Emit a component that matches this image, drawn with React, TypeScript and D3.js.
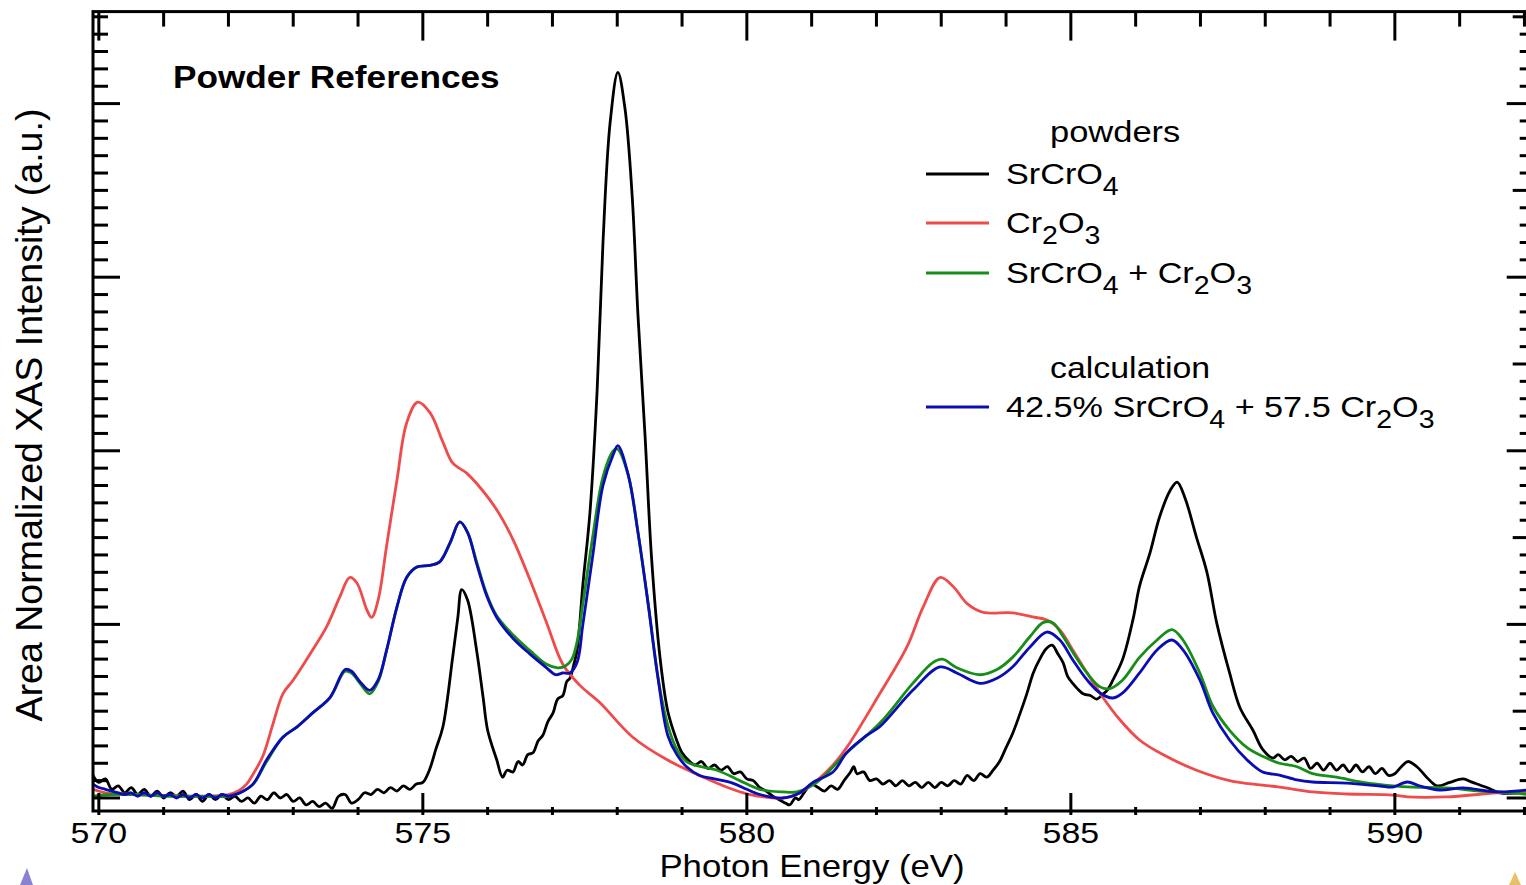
import React from "react";
import * as d3 from "d3";

// ---- spectra (photon energy in eV, area-normalized intensity) ----
const SRCRO4: [number, number][] = [
  [569.91, 0.13], [570.0, 0.09], [570.1, 0.11], [570.2, 0.05], [570.3, 0.07], [570.4, 0.03], [570.5, 0.06],
  [570.6, 0.02], [570.7, 0.05], [570.8, 0.01], [570.9, 0.04], [571.0, 0.0], [571.1, 0.03], [571.2, 0.01],
  [571.3, 0.04], [571.4, -0.01], [571.5, 0.02], [571.6, -0.02], [571.7, 0.02], [571.8, -0.01], [571.9, 0.02],
  [572.0, -0.01], [572.1, 0.01], [572.2, -0.02], [572.3, 0.0], [572.4, -0.03], [572.5, 0.01], [572.6, -0.01],
  [572.7, 0.03], [572.8, 0.0], [572.9, 0.02], [573.0, -0.02], [573.1, 0.0], [573.2, -0.04], [573.3, -0.02],
  [573.4, -0.05], [573.5, -0.03], [573.6, -0.06], [573.7, 0.01], [573.8, 0.02], [573.9, -0.03], [574.0, -0.01],
  [574.1, 0.03], [574.2, 0.02], [574.3, 0.05], [574.4, 0.03], [574.5, 0.06], [574.6, 0.04], [574.7, 0.07],
  [574.8, 0.05], [574.9, 0.08], [575.0, 0.09], [575.1, 0.16], [575.2, 0.28], [575.31, 0.41], [575.46, 0.81],
  [575.54, 1.04], [575.6, 1.2], [575.69, 1.14], [575.83, 0.85], [575.93, 0.58], [576.0, 0.39], [576.14, 0.22],
  [576.23, 0.12], [576.3, 0.16], [576.39, 0.15], [576.47, 0.21], [576.54, 0.19], [576.62, 0.25], [576.7, 0.26],
  [576.78, 0.33], [576.85, 0.36], [576.93, 0.44], [577.01, 0.49], [577.08, 0.57], [577.16, 0.59], [577.22, 0.67],
  [577.27, 0.69], [577.33, 0.77], [577.38, 0.85], [577.47, 1.23], [577.58, 1.65], [577.69, 2.35], [577.78, 3.2],
  [577.89, 3.89], [578.01, 4.18], [578.12, 3.97], [578.23, 3.47], [578.32, 2.78], [578.43, 2.08], [578.53, 1.38],
  [578.66, 0.81], [578.78, 0.5], [578.92, 0.33], [579.0, 0.26], [579.12, 0.21], [579.2, 0.19], [579.3, 0.21],
  [579.4, 0.17], [579.5, 0.19], [579.6, 0.16], [579.7, 0.18], [579.8, 0.14], [579.9, 0.15], [580.0, 0.11],
  [580.1, 0.1], [580.2, 0.06], [580.3, 0.04], [580.4, 0.01], [580.5, -0.01], [580.6, -0.03], [580.66, -0.04],
  [580.75, 0.0], [580.8, -0.01], [580.9, 0.04], [581.0, 0.08], [581.1, 0.06], [581.2, 0.04], [581.3, 0.07],
  [581.4, 0.05], [581.5, 0.1], [581.6, 0.15], [581.65, 0.18], [581.7, 0.14], [581.8, 0.15], [581.9, 0.1],
  [582.0, 0.11], [582.1, 0.08], [582.2, 0.1], [582.3, 0.07], [582.4, 0.1], [582.5, 0.07], [582.6, 0.09],
  [582.7, 0.06], [582.8, 0.09], [582.9, 0.06], [583.0, 0.09], [583.1, 0.07], [583.2, 0.1], [583.3, 0.08],
  [583.4, 0.13], [583.5, 0.1], [583.6, 0.14], [583.7, 0.12], [583.8, 0.16], [583.9, 0.21], [584.0, 0.29],
  [584.1, 0.37], [584.2, 0.47], [584.32, 0.6], [584.42, 0.72], [584.52, 0.8], [584.62, 0.86], [584.71, 0.88],
  [584.8, 0.83], [584.88, 0.78], [584.95, 0.7], [585.03, 0.66], [585.1, 0.63], [585.19, 0.6], [585.3, 0.59],
  [585.4, 0.57], [585.5, 0.6], [585.56, 0.62], [585.65, 0.68], [585.8, 0.8], [585.96, 1.03], [586.06, 1.22],
  [586.22, 1.41], [586.37, 1.62], [586.53, 1.77], [586.64, 1.82], [586.76, 1.73], [586.94, 1.5], [587.1, 1.3],
  [587.25, 1.01], [587.45, 0.72], [587.61, 0.52], [587.81, 0.39], [587.96, 0.28], [588.12, 0.23], [588.2, 0.25],
  [588.3, 0.22], [588.4, 0.24], [588.5, 0.21], [588.6, 0.23], [588.7, 0.17], [588.8, 0.2], [588.9, 0.16],
  [589.0, 0.2], [589.1, 0.16], [589.2, 0.19], [589.3, 0.15], [589.4, 0.19], [589.5, 0.15], [589.6, 0.18],
  [589.7, 0.14], [589.8, 0.17], [589.9, 0.13], [590.0, 0.14], [590.1, 0.18], [590.2, 0.21], [590.34, 0.18],
  [590.49, 0.12], [590.65, 0.07], [590.85, 0.09], [591.05, 0.11], [591.2, 0.09], [591.42, 0.06], [591.62, 0.03],
  [592.05, 0.035],
];

const CR2O3: [number, number][] = [
  [569.91, 0.05], [570.1, 0.03], [570.5, 0.02], [571.0, 0.015], [571.5, 0.01], [572.0, 0.02], [572.15, 0.04],
  [572.28, 0.08], [572.4, 0.15], [572.53, 0.24], [572.69, 0.43], [572.84, 0.6], [573.0, 0.68], [573.26, 0.83],
  [573.52, 0.99], [573.72, 1.16], [573.87, 1.27], [573.98, 1.24], [574.14, 1.08], [574.21, 1.04], [574.31, 1.14],
  [574.44, 1.45], [574.6, 1.83], [574.75, 2.16], [574.92, 2.28], [575.11, 2.22], [575.31, 2.05], [575.46, 1.93],
  [575.68, 1.87], [575.88, 1.79], [576.14, 1.66], [576.39, 1.49], [576.65, 1.26], [576.91, 1.01], [577.16, 0.77],
  [577.42, 0.65], [577.73, 0.55], [578.24, 0.35], [578.77, 0.22], [579.27, 0.13], [579.78, 0.05], [580.05, 0.02],
  [580.56, 0.0], [580.82, 0.03], [581.08, 0.1], [581.33, 0.19], [581.54, 0.29], [582.05, 0.6], [582.47, 0.87],
  [582.72, 1.1], [582.98, 1.27], [583.18, 1.22], [583.4, 1.12], [583.64, 1.07], [584.1, 1.066], [584.41, 1.043],
  [584.63, 1.025], [584.83, 0.968], [585.03, 0.853], [585.25, 0.72], [585.49, 0.582], [585.76, 0.449],
  [586.06, 0.334], [586.42, 0.25], [586.94, 0.16], [587.45, 0.1], [587.92, 0.075], [588.22, 0.063],
  [588.73, 0.035], [589.26, 0.023], [589.97, 0.017], [590.19, 0.006], [590.8, 0.006], [591.57, 0.029],
  [592.05, 0.035],
];

const MIXTURE: [number, number][] = [
  [569.91, 0.01], [570.2, 0.02], [570.6, 0.02], [571.0, 0.01], [571.5, 0.01], [572.0, 0.01], [572.18, 0.03],
  [572.38, 0.08], [572.59, 0.21], [572.84, 0.35], [573.06, 0.41], [573.3, 0.49], [573.57, 0.58], [573.8, 0.73],
  [573.9, 0.72], [574.03, 0.66], [574.18, 0.6], [574.31, 0.67], [574.44, 0.85], [574.6, 1.1], [574.75, 1.27],
  [574.91, 1.33], [575.11, 1.34], [575.26, 1.36], [575.42, 1.47], [575.57, 1.59], [575.69, 1.53], [575.83, 1.36],
  [575.99, 1.17], [576.14, 1.05], [576.39, 0.94], [576.65, 0.85], [576.91, 0.77], [577.08, 0.75], [577.2, 0.76],
  [577.3, 0.8], [577.38, 0.9], [577.47, 1.12], [577.62, 1.5], [577.78, 1.85], [577.94, 2.0], [578.0, 2.01],
  [578.17, 1.86], [578.32, 1.53], [578.48, 1.11], [578.63, 0.69], [578.78, 0.42], [578.92, 0.28], [579.07, 0.21],
  [579.3, 0.18], [579.54, 0.16], [579.89, 0.1], [580.2, 0.05], [580.56, 0.035], [580.77, 0.035], [581.08, 0.09],
  [581.54, 0.26], [582.05, 0.43], [582.56, 0.66], [582.87, 0.78], [583.02, 0.8], [583.24, 0.75], [583.6, 0.71],
  [583.86, 0.74], [584.1, 0.81], [584.37, 0.93], [584.57, 1.01], [584.72, 1.01], [584.88, 0.93], [585.03, 0.84],
  [585.25, 0.72], [585.45, 0.64], [585.6, 0.63], [585.8, 0.68], [586.06, 0.81], [586.33, 0.91], [586.56, 0.97],
  [586.73, 0.91], [586.99, 0.72], [587.19, 0.53], [587.45, 0.39], [587.72, 0.29], [587.96, 0.24], [588.22, 0.2],
  [588.49, 0.18], [588.73, 0.14], [589.1, 0.12], [589.51, 0.09], [589.97, 0.07], [590.28, 0.063], [590.8, 0.058],
  [591.31, 0.04], [591.82, 0.03], [592.05, 0.02],
];

const CALCULATION: [number, number][] = [
  [569.91, 0.08], [570.0, 0.06], [570.1, 0.05], [570.3, 0.03], [570.4, 0.02], [570.5, 0.03], [570.6, 0.01],
  [570.7, 0.03], [570.8, 0.01], [570.9, 0.03], [571.0, 0.01], [571.1, 0.02], [571.2, 0.0], [571.3, 0.02],
  [571.4, 0.0], [571.5, 0.02], [571.6, 0.0], [571.7, 0.02], [571.8, 0.0], [571.9, 0.02], [572.0, 0.01],
  [572.1, 0.02], [572.18, 0.03], [572.38, 0.08], [572.59, 0.22], [572.84, 0.35], [573.06, 0.41], [573.3, 0.49],
  [573.57, 0.58], [573.8, 0.74], [573.9, 0.73], [574.03, 0.67], [574.18, 0.62], [574.31, 0.68], [574.44, 0.85],
  [574.6, 1.1], [574.75, 1.27], [574.91, 1.33], [575.11, 1.34], [575.26, 1.36], [575.42, 1.47], [575.57, 1.59],
  [575.69, 1.53], [575.83, 1.35], [575.99, 1.16], [576.14, 1.04], [576.39, 0.92], [576.65, 0.83], [576.91, 0.75],
  [577.05, 0.71], [577.16, 0.72], [577.27, 0.72], [577.38, 0.78], [577.47, 1.0], [577.62, 1.39], [577.78, 1.8],
  [577.94, 1.98], [578.01, 2.03], [578.17, 1.86], [578.32, 1.53], [578.48, 1.11], [578.63, 0.69], [578.78, 0.36],
  [578.92, 0.25], [579.07, 0.18], [579.27, 0.13], [579.5, 0.11], [579.78, 0.086], [580.0, 0.05], [580.2, 0.02],
  [580.56, 0.0], [580.82, 0.03], [581.02, 0.09], [581.33, 0.15], [581.54, 0.26], [581.85, 0.36], [582.05, 0.41],
  [582.56, 0.62], [582.98, 0.755], [583.24, 0.72], [583.6, 0.66], [583.86, 0.69], [584.1, 0.755], [584.37, 0.87],
  [584.63, 0.956], [584.83, 0.91], [585.03, 0.795], [585.25, 0.68], [585.45, 0.605], [585.65, 0.576],
  [585.8, 0.605], [586.06, 0.72], [586.33, 0.853], [586.56, 0.91], [586.73, 0.853], [586.99, 0.68],
  [587.19, 0.49], [587.45, 0.334], [587.72, 0.219], [587.96, 0.15], [588.22, 0.132], [588.49, 0.104],
  [588.73, 0.092], [589.26, 0.086], [589.77, 0.069], [589.97, 0.063], [590.19, 0.092], [590.39, 0.069],
  [590.69, 0.046], [591.05, 0.058], [591.57, 0.035], [592.05, 0.046],
];

// ---- axis ticks ----
const X_MAJOR_TICKS = [570, 575, 580, 585, 590];
const X_MINOR_TICKS = d3.range(570, 593, 1);
const Y_MAJOR_TICKS = [0, 1, 2, 3, 4];
const Y_MINOR_TICKS = d3.range(0, 46).map((i) => i / 10);

// ---- labels ----
const TITLE = "Powder References";
const X_LABEL = "Photon Energy (eV)";
const Y_LABEL = "Area Normalized XAS Intensity (a.u.)";
const GROUP_POWDERS = "powders";
const GROUP_CALC = "calculation";

type Seg = [string, boolean]; // text, subscript?
const LABEL_SRCRO4: Seg[] = [["SrCrO", false], ["4", true]];
const LABEL_CR2O3: Seg[] = [["Cr", false], ["2", true], ["O", false], ["3", true]];
const LABEL_MIX: Seg[] = [["SrCrO", false], ["4", true], [" + Cr", false], ["2", true], ["O", false], ["3", true]];
const LABEL_CALC: Seg[] = [
  ["42.5% SrCrO", false], ["4", true], [" + 57.5 Cr", false], ["2", true], ["O", false], ["3", true],
];

const COLORS = { srcro4: "#000000", cr2o3: "#ef4b4b", mix: "#178e17", calc: "#0c0cb4" };

const W = 1526;
const H = 885;
const FONT = "'Liberation Sans', Arial, Helvetica, sans-serif";

const x = d3.scaleLinear().domain([569.91, 592.05]).range([93, 1527.7]);
const y = d3.scaleLinear().domain([-0.075, 4.53]).range([811, 11.6]);

const line = d3
  .line<[number, number]>()
  .x((d) => x(d[0]))
  .y((d) => y(d[1]))
  .curve(d3.curveCatmullRom.alpha(0.5));

function Label({
  tx, ty, fs, sx = 1, anchor = "start", weight = "normal", rotate = 0, children,
}: {
  tx: number; ty: number; fs: number; sx?: number; anchor?: string; weight?: string; rotate?: number;
  children: React.ReactNode;
}) {
  return (
    <text
      transform={`translate(${tx},${ty}) rotate(${rotate}) scale(${sx},1)`}
      fontSize={fs}
      fontFamily={FONT}
      fontWeight={weight}
      textAnchor={anchor}
      fill="#000"
    >
      {children}
    </text>
  );
}

function Formula({ segs, fs, subFs, shift }: { segs: Seg[]; fs: number; subFs: number; shift: number }) {
  let offset = 0;
  return (
    <>
      {segs.map(([t, sub], i) => {
        const dy = sub ? shift - offset : -offset;
        offset = sub ? shift : 0;
        return (
          <tspan key={i} dy={dy} fontSize={sub ? subFs : fs} style={{ whiteSpace: "pre" }}>
            {t}
          </tspan>
        );
      })}
    </>
  );
}

export default function App() {
  const left = x.range()[0];
  const right = x.range()[1];
  const top = y.range()[1];
  const bottom = y.range()[0];

  const series = [
    { data: SRCRO4, color: COLORS.srcro4 },
    { data: CR2O3, color: COLORS.cr2o3 },
    { data: MIXTURE, color: COLORS.mix },
    { data: CALCULATION, color: COLORS.calc },
  ];

  const legendRows = [
    { segs: LABEL_SRCRO4, color: COLORS.srcro4, base: 184 },
    { segs: LABEL_CR2O3, color: COLORS.cr2o3, base: 233 },
    { segs: LABEL_MIX, color: COLORS.mix, base: 283 },
    { segs: LABEL_CALC, color: COLORS.calc, base: 417 },
  ];

  return (
    <svg
      width={W}
      height={H}
      viewBox={`0 0 ${W} ${H}`}
      style={{ position: "absolute", left: 0, top: 0, background: "#fff" }}
    >
      <rect x={0} y={0} width={W} height={H} fill="#fff" />
      <defs>
        <clipPath id="plot-clip">
          <rect x={left} y={top} width={right - left} height={bottom - top} />
        </clipPath>
      </defs>

      {/* spectra */}
      <g clipPath="url(#plot-clip)" fill="none" strokeWidth={2.8} strokeLinejoin="round" strokeLinecap="round">
        {series.map((s, i) => (
          <path key={i} d={line(s.data) ?? ""} stroke={s.color} />
        ))}
      </g>

      {/* frame */}
      <rect x={left} y={top} width={right - left} height={bottom - top} fill="none" stroke="#000" strokeWidth={3} />

      {/* bottom & top ticks, left & right ticks */}
      <g stroke="#000" strokeWidth={3}>
        {X_MINOR_TICKS.map((v) => {
          const major = X_MAJOR_TICKS.includes(v);
          const px = x(v);
          return (
            <g key={`xt${v}`}>
              <line x1={px} x2={px} y1={bottom + 4} y2={major ? bottom - 18 : bottom - 4} />
              <line x1={px} x2={px} y1={top} y2={major ? top + 29 : top + 15} />
            </g>
          );
        })}
        {Y_MINOR_TICKS.map((v) => {
          const major = Y_MAJOR_TICKS.includes(v);
          const half = !major && Math.abs(v * 2 - Math.round(v * 2)) < 1e-6;
          const py = y(v);
          return (
            <g key={`yt${v}`}>
              <line x1={left} x2={left + (major ? 27 : 15)} y1={py} y2={py} />
              <line x1={right} x2={right - (major ? 21 : half ? 15 : 8)} y1={py} y2={py} />
            </g>
          );
        })}
      </g>

      {/* tick labels */}
      {X_MAJOR_TICKS.map((v) => (
        <Label key={`xl${v}`} tx={x(v)} ty={843} fs={30} sx={1.13} anchor="middle">
          {String(v)}
        </Label>
      ))}

      {/* axis titles */}
      <Label tx={812} ty={877} fs={30.5} sx={1.14} anchor="middle">{X_LABEL}</Label>
      <Label tx={42} ty={415} fs={37.5} rotate={-90} anchor="middle">{Y_LABEL}</Label>

      {/* panel title */}
      <Label tx={173} ty={88} fs={32} sx={1.1} weight="bold">{TITLE}</Label>

      {/* legend */}
      <Label tx={1050} ty={142} fs={30} sx={1.15}>{GROUP_POWDERS}</Label>
      <Label tx={1050} ty={378} fs={30} sx={1.13}>{GROUP_CALC}</Label>
      {legendRows.map((r, i) => (
        <g key={`lg${i}`}>
          <line x1={926} x2={989} y1={r.base - 10} y2={r.base - 10} stroke={r.color} strokeWidth={3} />
          <Label tx={1006} ty={r.base} fs={30} sx={1.14}>
            <Formula segs={r.segs} fs={30} subFs={25} shift={11} />
          </Label>
        </g>
      ))}

      {/* corner marks */}
      <path d="M20,885 L27,868 L33,885 Z" fill="#6b63c8" opacity={0.8} />
      <path d="M1509,885 L1515,872 L1521,885 Z" fill="#e2b64a" opacity={0.85} />
    </svg>
  );
}
